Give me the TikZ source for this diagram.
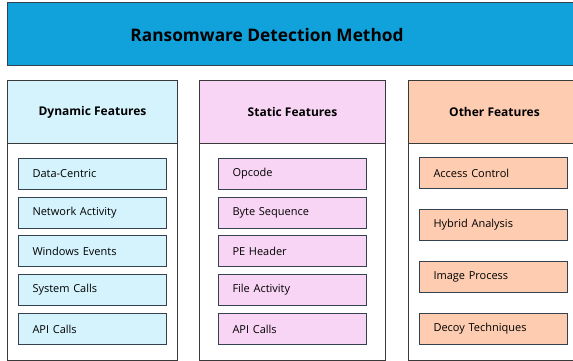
\documentclass[tikz,border=0pt]{standalone}
\usepackage{fontspec}
\setmainfont{Open Sans}
\definecolor{titlecol}{HTML}{12A2DB}
\definecolor{dyncol}{HTML}{D5F3FD}
\definecolor{statcol}{HTML}{F8D5F4}
\definecolor{othcol}{HTML}{FDCCB1}
\definecolor{edgecol}{HTML}{34414E}
\definecolor{outercol}{HTML}{3A3A3A}
\begin{document}
\begin{tikzpicture}[x=1pt,y=-1pt,
  titlebox/.style={draw=edgecol,line width=1pt,fill=titlecol,anchor=north west,minimum width=580pt,minimum height=63pt,inner sep=0pt},
  colbox/.style={draw=outercol,line width=1pt,fill=white,anchor=north west,minimum height=280pt,inner sep=0pt},
  headbox/.style={draw=outercol,line width=1pt,anchor=north west,minimum height=63pt,inner sep=0pt,font=\fontsize{12}{14}\selectfont\bfseries},
  itembox/.style={draw=edgecol,line width=1pt,anchor=north west,minimum width=148pt,minimum height=31pt,inner xsep=14pt,inner ysep=0pt,text width=120pt,align=left,font=\fontsize{11}{13}\selectfont},
  lbl/.style={inner sep=0pt}]
\clip (0,0) rectangle (573,361);
\node[titlebox] (title) at (7,2) {};
\node[lbl,font=\fontsize{17.3}{21}\selectfont\bfseries] (titletext) at (267,35) {Ransomware Detection Method};
% columns
\node[colbox,minimum width=170pt] (c1) at (7,80) {};
\node[colbox,minimum width=186pt] (c2) at (199,80) {};
\node[colbox,minimum width=172pt] (c3) at (408,80) {};
\node[headbox,fill=dyncol,minimum width=170pt] (h1) at (7,80) {Dynamic Features};
\node[headbox,fill=statcol,minimum width=186pt] (h2) at (199,80) {Static Features};
\node[headbox,fill=othcol,minimum width=172pt] (h3) at (408,80) {Other Features};
% dynamic items
\node[itembox,fill=dyncol] (d1) at (18,158) {Data-Centric};
\node[itembox,fill=dyncol] (d2) at (18,196.5) {Network Activity};
\node[itembox,fill=dyncol] (d3) at (18,235) {Windows Events};
\node[itembox,fill=dyncol] (d4) at (18,274) {System Calls};
\node[itembox,fill=dyncol] (d5) at (18,313) {API Calls};
% static items
\node[itembox,fill=statcol] (s1) at (218,158) {Opcode};
\node[itembox,fill=statcol] (s2) at (218,196.5) {Byte Sequence};
\node[itembox,fill=statcol] (s3) at (218,235) {PE Header};
\node[itembox,fill=statcol] (s4) at (218,274) {File Activity};
\node[itembox,fill=statcol] (s5) at (218,313) {API Calls};
% other items
\node[itembox,fill=othcol] (o1) at (419,157) {Access Control};
\node[itembox,fill=othcol] (o2) at (419,209) {Hybrid Analysis};
\node[itembox,fill=othcol] (o3) at (419,261) {Image Process};
\node[itembox,fill=othcol] (o4) at (419,313) {Decoy Techniques};
\end{tikzpicture}
\end{document}
